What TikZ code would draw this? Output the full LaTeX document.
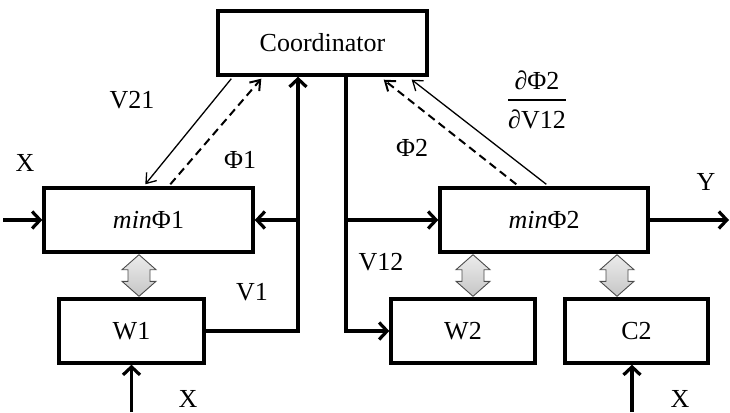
\documentclass[tikz,border=0pt]{standalone}
\usepackage{fontspec}
\setmainfont{Liberation Serif}
\usetikzlibrary{arrows.meta,calc}
\begin{document}
\begin{tikzpicture}[x=1pt,y=-1pt,
  box/.style={draw,line width=3.4pt,minimum width=#1,minimum height=64pt,inner sep=0pt,font=\fontsize{26}{30}\selectfont},
  lbl/.style={inner sep=0pt,font=\fontsize{26}{30}\selectfont},
  thk/.style={line width=3.2pt,-{Straight Barb[length=8pt,width=17pt]}},
  thn/.style={line width=1.3pt,-{Straight Barb[length=9pt,width=13pt]}},
  dsh/.style={line width=2pt,dash pattern=on 8pt off 5pt,-{Straight Barb[length=9pt,width=13pt]}},
  dbl/.style={top color=gray!15,bottom color=gray!45,draw=gray!60!black,line width=0.9pt}]
\useasboundingbox (0,0) rectangle (730,412);
% boxes
\node[box=209pt] (coord) at (322.5,43) {Coordinator};
\node[box=209pt] (min1) at (148.5,220) {\textit{min}Φ1};
\node[box=145pt] (w1) at (131.5,331) {W1};
\node[box=208pt] (min2) at (544,220) {\textit{min}Φ2};
\node[box=144pt] (w2) at (463,331) {W2};
\node[box=143pt] (c2) at (636.5,331) {C2};
% labels
\node[lbl] (lv21) at (132,100) {V21};
\node[lbl] (lphi1) at (240,160) {Φ1};
\node[lbl] (lv1) at (252,292) {V1};
\node[lbl] (lv12) at (381,262) {V12};
\node[lbl] (lphi2) at (412,148) {Φ2};
\node[lbl] (lfrac) at (537,103) {\setlength{\arrayrulewidth}{1.5pt}\begin{tabular}{@{}c@{}}∂Φ2\\[1pt]\hline\rule{0pt}{28pt}∂V12\end{tabular}};
\node[lbl] (lx1) at (25,163) {X};
\node[lbl] (ly) at (706,182) {Y};
\node[lbl] (lx2) at (188,399) {X};
\node[lbl] (lx3) at (680,399) {X};
% free ends
\coordinate (inx) at (3,220);
\coordinate (outy) at (729,220);
\coordinate (inw1) at (131.5,412);
\coordinate (inc2) at (632,412);
\coordinate (v1x) at (298,0);
\coordinate (v2x) at (346,0);
% inputs / output
\draw[thk] (inx) -- (min1.west);
\draw[thk] (min2.east) -- (outy);
\draw[thk] (inw1) -- (w1.south);
\draw[thk] (inc2) -- (inc2 |- c2.south);
% V1 loop
\draw[thk] (w1.east) -| (v1x |- coord.south);
\draw[thk] (v1x |- min1.east) -- (min1.east);
% V12 lines
\draw[thk] (v2x |- coord.south) |- (w2.west);
\draw[thk] (v2x |- min2.west) -- (min2.west);
% diagonals
\draw[thn] ($(coord.south west)+(15,2)$) -- ($(min1.north west)+(103,-2)$);
\draw[dsh] ($(min1.north west)+(128,-2)$) -- ($(coord.south west)+(45,2)$);
\draw[thn] ($(min2.north west)+(108,-2)$) -- ($(coord.south east)+(-17,3)$);
\draw[dsh] ($(min2.north west)+(78,-2)$) -- ($(coord.south east)+(-45,3)$);
% double arrows
\foreach \n/\cx/\a/\b in {d1/139/min1/w1, d2/473/min2/w2, d3/617/min2/c2}{
  \path (\cx,0) coordinate (\n x);
  \path ($(\n x |- \a.south)+(0,1)$) coordinate (\n t);
  \path ($(\n x |- \b.north)+(0,-1)$) coordinate (\n b);
  \draw[dbl] (\n t) -- ++(17,15) -- ++(-6,0) -- ($(\n b)+(11,-15)$) -- ++(6,0) -- (\n b)
    -- ++(-17,-15) -- ++(6,0) -- ($(\n t)+(-11,15)$) -- ++(-6,0) -- cycle;
}
\end{tikzpicture}
\end{document}
